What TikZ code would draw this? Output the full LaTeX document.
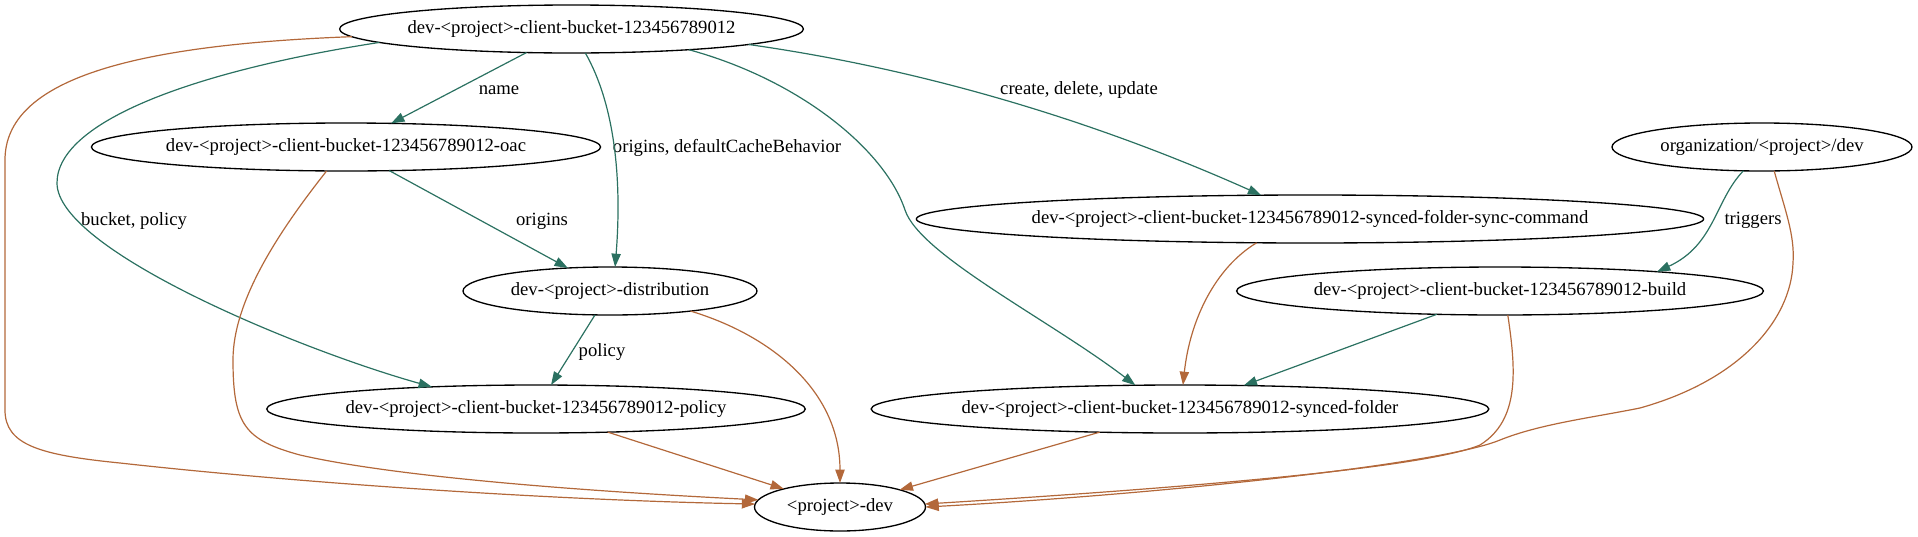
\documentclass[tikz,border=0pt]{standalone}
\usepackage{fontspec}
\setmainfont{Liberation Serif}
\usetikzlibrary{shapes.geometric,arrows.meta}
\definecolor{edgeg}{HTML}{2B7161}
\definecolor{edgeb}{HTML}{B3683A}
\begin{document}
\begin{tikzpicture}[x=0.75pt,y=-0.75pt,
  ell/.style={draw=black, ellipse, line width=1pt, inner sep=0pt, outer sep=0pt, minimum height=36pt, font=\fontsize{14}{16}\selectfont},
  lbl/.style={inner sep=0pt, font=\fontsize{14}{16}\selectfont},
  ge/.style={draw=edgeg, line width=0.9pt, -{Triangle[length=10pt,width=7pt]}},
  be/.style={draw=edgeb, line width=0.9pt, -{Triangle[length=10pt,width=7pt]}}
]
\useasboundingbox (0,0) rectangle (1918,536);
% nodes
\node[ell, minimum width=347.25pt] (T) at (571.5,29) {dev-<project>-client-bucket-123456789012};
\node[ell, minimum width=378pt] (O) at (346,147) {dev-<project>-client-bucket-123456789012-oac};
\node[ell, minimum width=225pt] (G) at (1762,147) {organization/<project>/dev};
\node[ell, minimum width=574.5pt] (S) at (1310,219) {dev-<project>-client-bucket-123456789012-synced-folder-sync-command};
\node[ell, minimum width=220.5pt] (D) at (610,291) {dev-<project>-distribution};
\node[ell, minimum width=391.5pt] (B) at (1500,291) {dev-<project>-client-bucket-123456789012-build};
\node[ell, minimum width=400.5pt] (P) at (536,409) {dev-<project>-client-bucket-123456789012-policy};
\node[ell, minimum width=454.5pt] (F) at (1180,409) {dev-<project>-client-bucket-123456789012-synced-folder};
\node[ell, minimum width=128.25pt] (V) at (840,507) {<project>-dev};
% labels
\node[lbl] (Lname) at (499,90) {name};
\node[lbl] (Lodcb) at (727,148) {origins, defaultCacheBehavior};
\node[lbl] (Lorig) at (542,221) {origins};
\node[lbl] (Lbp) at (134,221) {bucket, policy};
\node[lbl] (Lcdu) at (1079,90) {create, delete, update};
\node[lbl] (Ltrig) at (1753,220) {triggers};
\node[lbl] (Lpol) at (602,352) {policy};
% green edges
\draw[ge] (T) -- (O);
\draw[ge] (O) -- (D);
\draw[ge] (D) -- (P);
\draw[ge] (B) -- (F);
\draw[ge] (T.-5.6) .. controls (915,68) and (1086,117) .. (S.154);
\draw[ge] (T.-60) .. controls (615,105) and (622,180) .. (D.78);
\draw[ge] (T.184) .. controls (200,70) and (57,120) .. (57,183) .. controls (57,250) and (300,350) .. (P.168);
\draw[ge] (T.-10.6) .. controls (800,80) and (885,150) .. (905,210) .. controls (920,255) and (1050,320) .. (F.152);
\draw[ge] (G.232) .. controls (1715,200) and (1715,245) .. (B.7.6);
% brown edges
\draw[be] (P) -- (V);
\draw[be] (F) -- (V);
\draw[be] (S.204) .. controls (1215,268) and (1190,320) .. (F.83);
\draw[be] (D.-14) .. controls (770,335) and (840,390) .. (V.90);
\draw[be] (O.231) .. controls (280,230) and (233,300) .. (233,360) .. controls (233,425) and (245,440) .. (300,455) .. controls (400,478) and (600,492) .. (V.175);
\draw[be] (T.182) .. controls (130,45) and (5,80) .. (5,160) -- (5,410) .. controls (5,445) and (40,455) .. (120,463) .. controls (300,483) and (550,500) .. (V.178);
\draw[be] (B.-72) .. controls (1516,370) and (1520,420) .. (1480,445) .. controls (1420,470) and (1150,490) .. (V.2.6);
\draw[be] (G.-63) .. controls (1785,210) and (1795,235) .. (1793,263) .. controls (1791,320) and (1740,380) .. (1640,408) .. controls (1590,418) and (1540,424) .. (1500,440) .. controls (1440,465) and (1150,495) .. (V.0);
\end{tikzpicture}
\end{document}
